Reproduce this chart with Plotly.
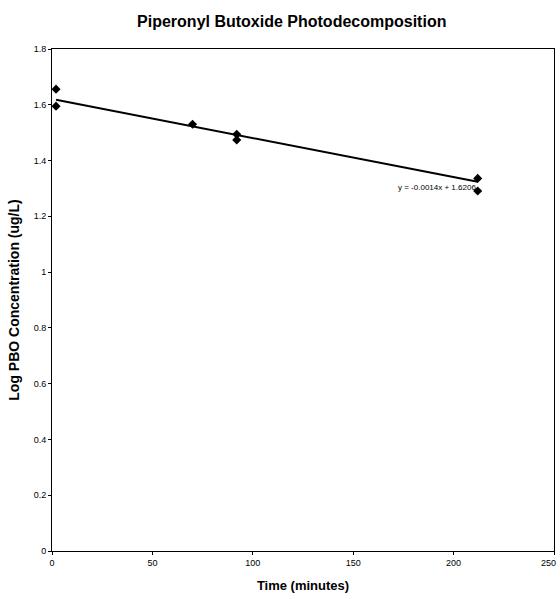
import plotly.graph_objects as go

time_min = [2, 2, 70, 92, 92, 212, 212]
log_conc = [1.656, 1.595, 1.530, 1.494, 1.474, 1.336, 1.291]
slope = -0.0014
intercept = 1.6206
fit_x = [2, 212]
fit_y = [slope * x + intercept for x in fit_x]
x_ticks = [0, 50, 100, 150, 200, 250]
y_ticks = [0, 0.2, 0.4, 0.6, 0.8, 1, 1.2, 1.4, 1.6, 1.8]

fig = go.Figure()
fig.add_trace(go.Scatter(x=fit_x, y=fit_y, mode="lines",
                         line=dict(color="black", width=2), showlegend=False))
fig.add_trace(go.Scatter(x=time_min, y=log_conc, mode="markers",
                         marker=dict(symbol="diamond", size=7, color="black"),
                         showlegend=False))
fig.add_annotation(x=212, y=1.305, xref="x", yref="y", text="y = -0.0014x + 1.6206",
                   showarrow=False, xanchor="right", yanchor="middle",
                   font=dict(family="Arial, Liberation Sans", size=8, color="black"))
# last x tick label (sits at the window edge in the original)
fig.add_annotation(x=x_ticks[-1], y=0, xref="x", yref="paper", text=str(x_ticks[-1]),
                   showarrow=False, xanchor="right", yanchor="top", yshift=-5, xshift=4,
                   font=dict(family="Arial, Liberation Sans", size=9, color="black"))

fig.update_layout(
    width=560, height=599,
    margin=dict(l=52, r=6, t=49, b=48),
    paper_bgcolor="white", plot_bgcolor="white",
    title=dict(text="<b>Piperonyl Butoxide Photodecomposition</b>", xref="container",
               x=0.521, xanchor="center", y=0.965, yanchor="middle",
               font=dict(family="Arial, Liberation Sans", size=16, color="black")),
    font=dict(family="Arial, Liberation Sans", size=9, color="black"),
    xaxis=dict(range=[0, 250], tickvals=x_ticks,
               ticktext=[str(v) for v in x_ticks[:-1]] + [""],
               showgrid=False, zeroline=False,
               showline=True, linecolor="black", linewidth=1, mirror=True,
               ticks="outside", ticklen=3, tickcolor="black",
               title=dict(text="<b>Time (minutes)</b>", standoff=14,
                          font=dict(size=13))),
    yaxis=dict(range=[0, 1.8], tickvals=y_ticks, showgrid=False, zeroline=False,
               showline=True, linecolor="black", linewidth=1, mirror=True,
               ticks="outside", ticklen=3, tickcolor="black",
               title=dict(text="<b>Log PBO Concentration (ug/L)</b>", standoff=10,
                          font=dict(size=14))),
)
fig.write_html("out.html")
